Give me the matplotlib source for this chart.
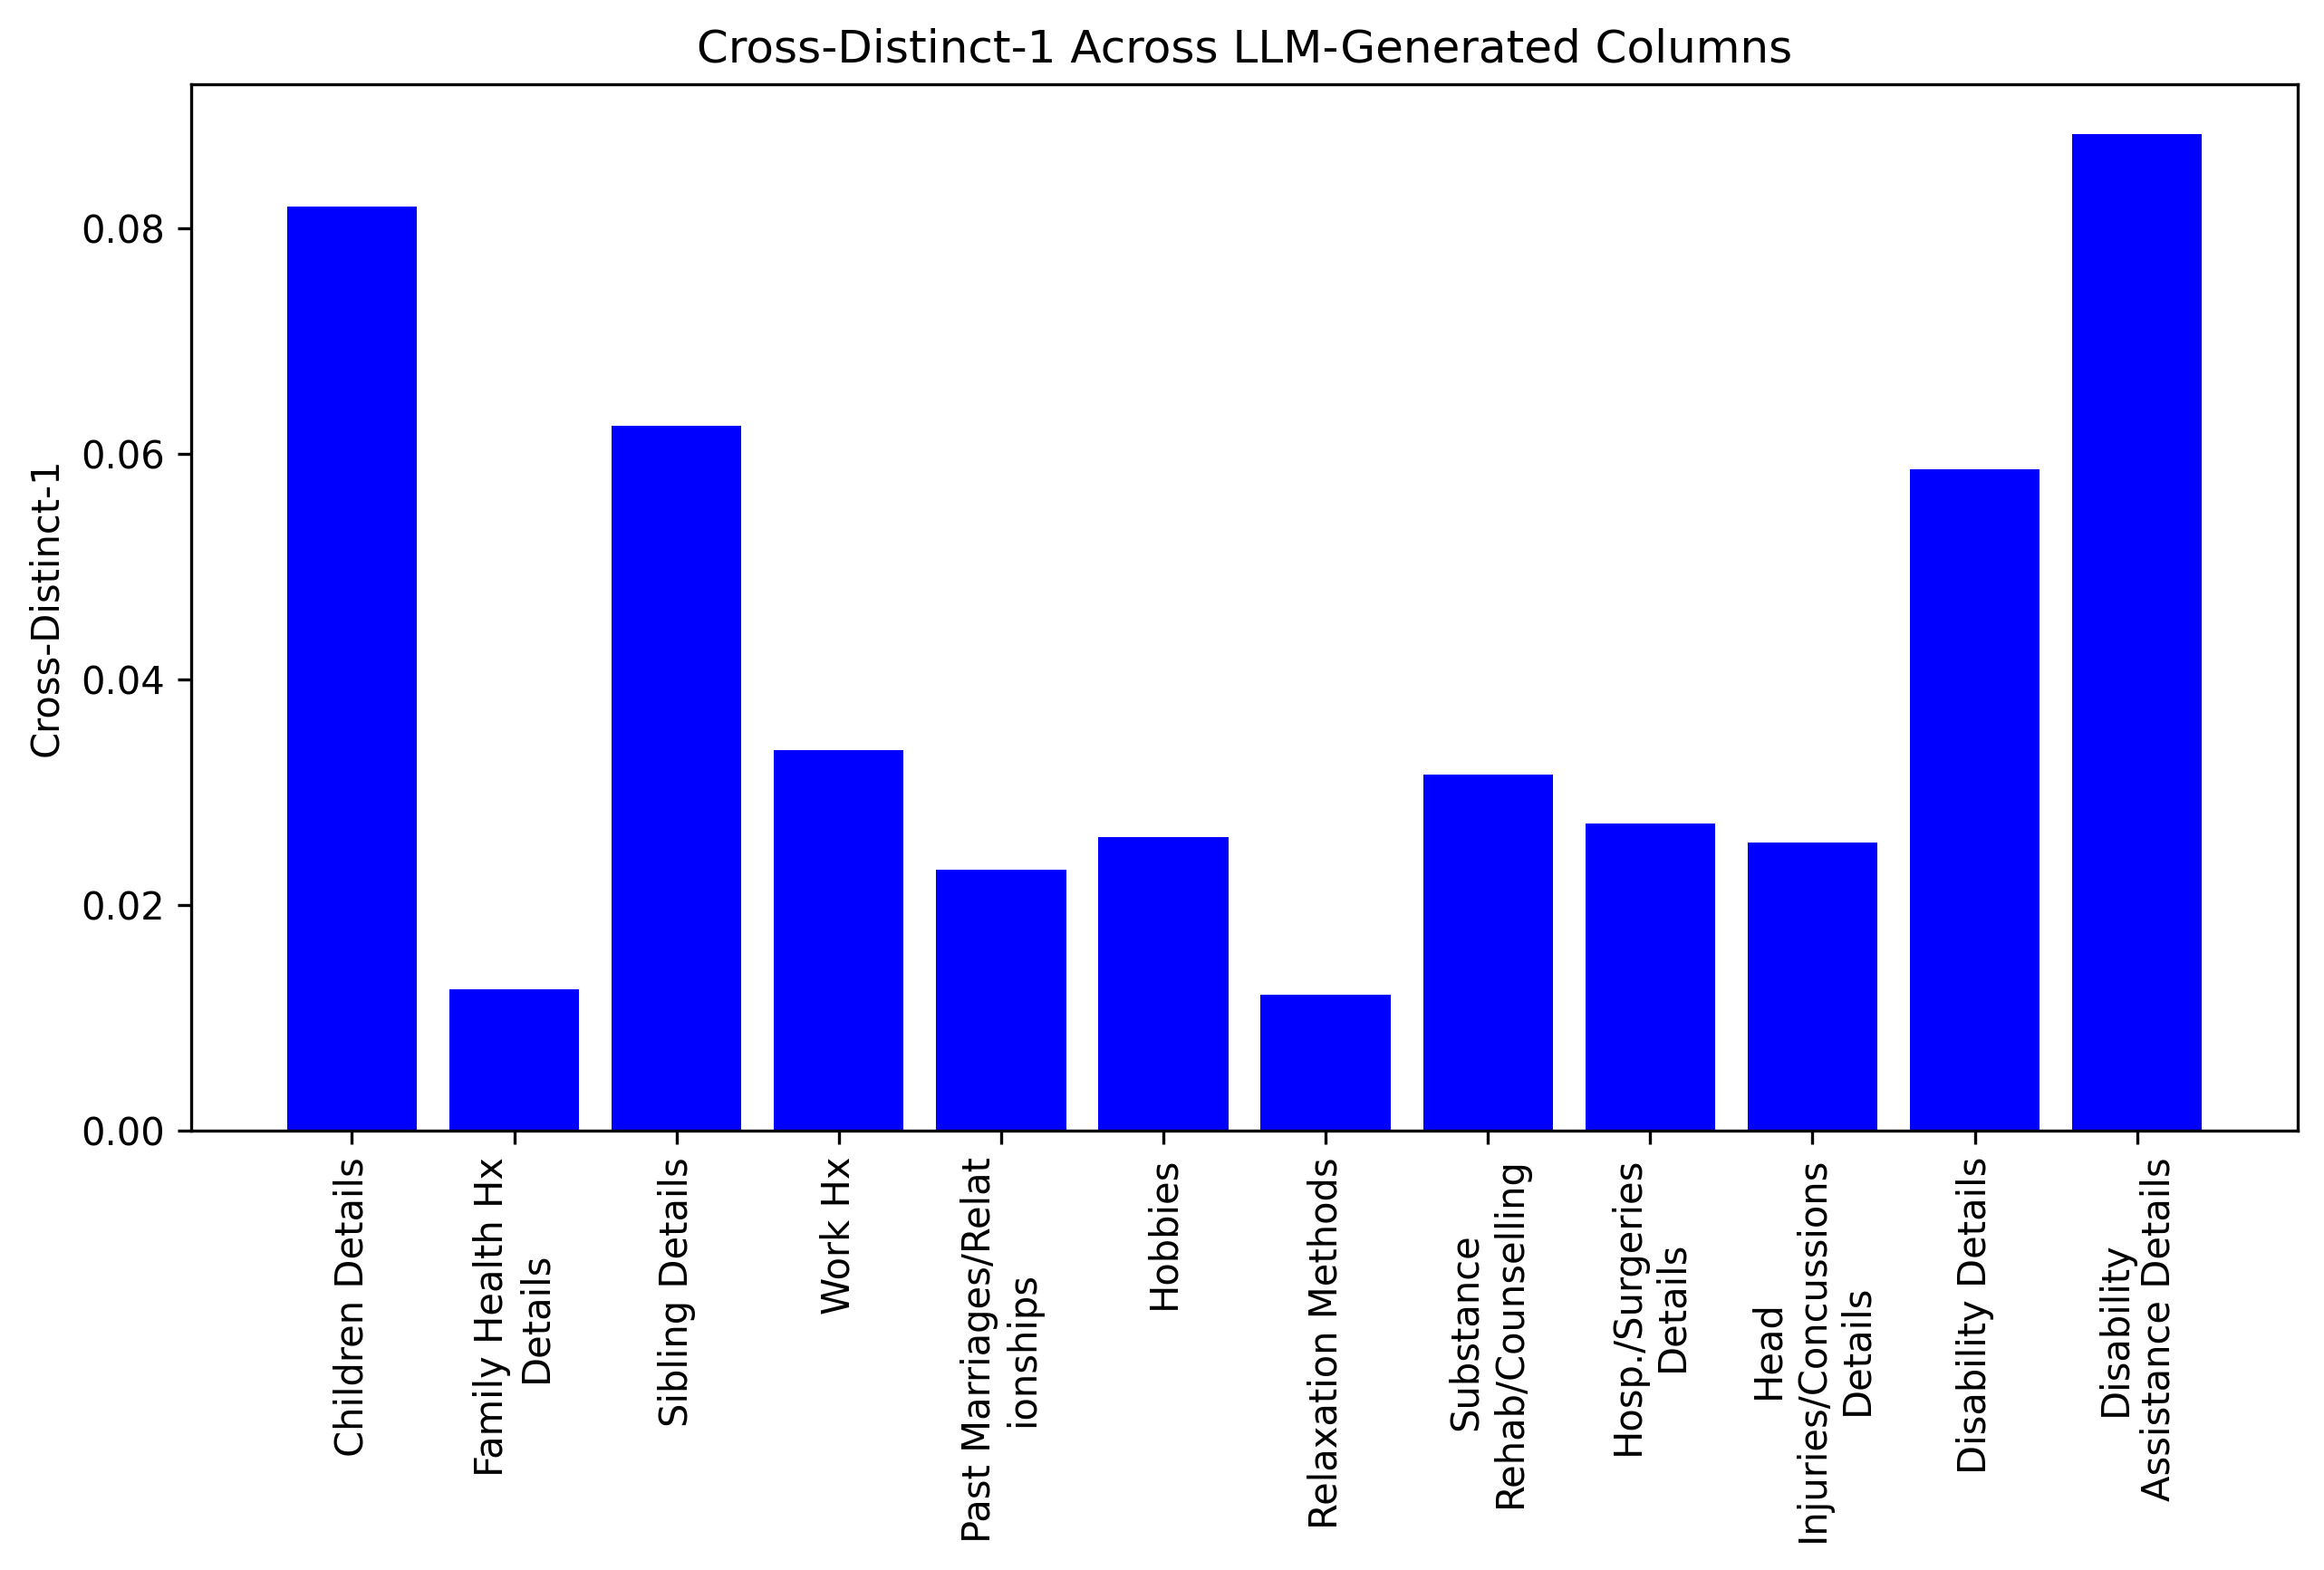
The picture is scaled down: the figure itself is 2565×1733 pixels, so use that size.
#!/usr/bin/env python3
"""Cross-Distinct-1 bar chart across LLM-generated columns."""

import matplotlib
matplotlib.use("Agg")
import matplotlib.pyplot as plt

# Column labels (already wrapped as in the original figure)
columns = [
    "Children Details",
    "Family Health Hx\nDetails",
    "Sibling Details",
    "Work Hx",
    "Past Marriages/Relat\nionships",
    "Hobbies",
    "Relaxation Methods",
    "Substance\nRehab/Counselling",
    "Hosp./Surgeries\nDetails",
    "Head\nInjuries/Concussions\nDetails",
    "Disability Details",
    "Disability\nAssistance Details",
]

cross_distinct_1 = [
    0.0819, 0.01253, 0.06242, 0.03373, 0.02311, 0.02601,
    0.01201, 0.03156, 0.02721, 0.02548, 0.05862, 0.08832,
]

fig, ax = plt.subplots(figsize=(8.55, 5.777), dpi=300)
fig.subplots_adjust(left=0.0823, right=0.9887, top=0.9463, bottom=0.280)

ax.bar(range(len(columns)), cross_distinct_1, color="blue")
ax.set_xticks(range(len(columns)))
ax.set_xticklabels(columns, rotation=90)
ax.set_ylabel("Cross-Distinct-1")
ax.set_title("Cross-Distinct-1 Across LLM-Generated Columns")

fig.savefig("out.png", dpi=300)
plt.close(fig)
